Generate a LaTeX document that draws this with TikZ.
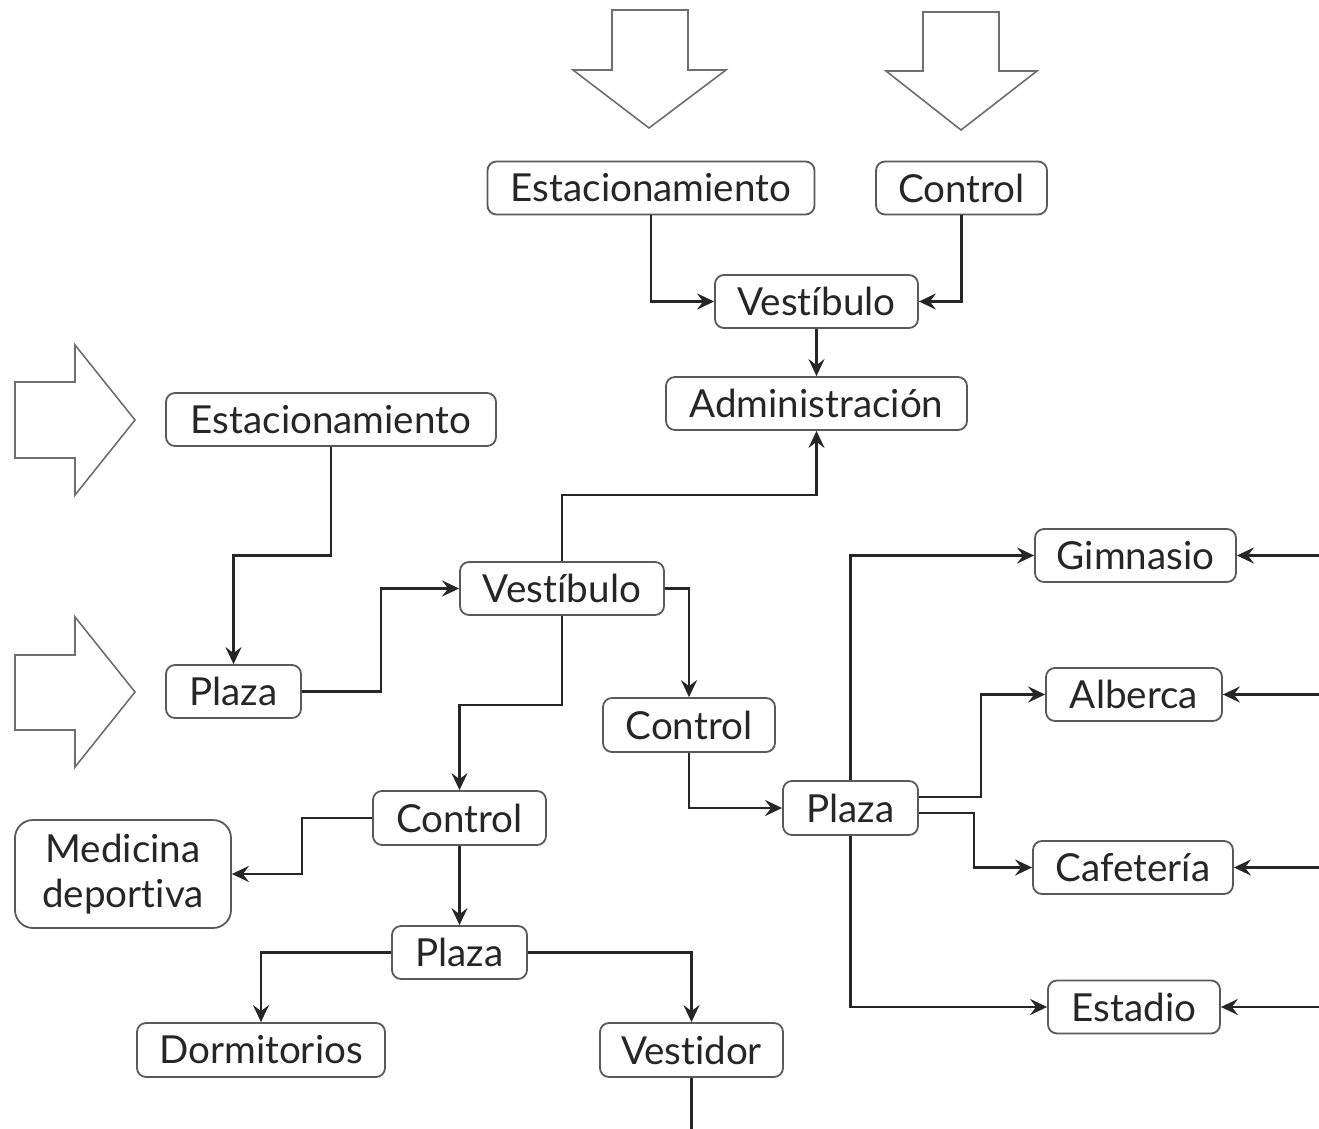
\documentclass[tikz,border=0pt]{standalone}
\usepackage{fontspec}
\setmainfont[Ligatures=NoCommon]{Lato}
\usetikzlibrary{arrows.meta,calc}
\definecolor{ink}{HTML}{262626}
\definecolor{frame}{HTML}{5A5A5A}
\definecolor{outline}{HTML}{6E6E6E}
\begin{document}
\begin{tikzpicture}[
  x=0.5pt, y=-0.5pt,
  font=\fontsize{19.3}{22.5}\selectfont,
  box/.style={draw=frame, line width=0.9pt, rounded corners=4.5pt, fill=white,
    text=ink, inner sep=0pt, minimum height=26.5pt, align=center},
  conn/.style={draw=ink, line width=1.15pt, -{Stealth[length=8.5pt, width=8pt, inset=3pt]}},
  link/.style={draw=ink, line width=1.15pt},
  bigarrow/.style={draw=outline, line width=0.8pt, fill=white, line join=miter}
]
\useasboundingbox[fill=white] (0,0) rectangle (1319,1129);

% open block arrows marking the entrances
\draw[bigarrow] (612,10) -- (688,10) -- (688,70) -- (726,70) -- (649,128) -- (573,70) -- (612,70) -- cycle;
\draw[bigarrow] (923,12) -- (999,12) -- (999,71) -- (1037,71) -- (961,130) -- (886,71) -- (923,71) -- cycle;
\draw[bigarrow] (15,382) -- (75,382) -- (75,345) -- (135,420) -- (75,495) -- (75,458) -- (15,458) -- cycle;
\draw[bigarrow] (15,655) -- (75,655) -- (75,617) -- (135,692) -- (75,767) -- (75,730) -- (15,730) -- cycle;

% rooms
\node[box, minimum width=163.5pt] (est1) at (651,188) {Estacionamiento};
\node[box, minimum width=85.5pt]  (ctl1) at (961.5,188) {Control};
\node[box, minimum width=101.5pt] (ves1) at (816.5,301.5) {Vestíbulo};
\node[box, minimum width=150.5pt] (adm)  at (816.5,403.5) {Administración};
\node[box, minimum width=165pt]   (est2) at (331,419.5) {Estacionamiento};
\node[box, minimum width=67.5pt]  (pla1) at (233.5,691.5) {Plaza};
\node[box, minimum width=102pt]   (ves2) at (562,588.5) {Vestíbulo};
\node[box, minimum width=86pt, minimum height=27pt] (ctl2) at (689,725) {Control};
\node[box, minimum width=86.5pt, minimum height=27pt] (ctl3) at (459.5,818) {Control};
\node[box, minimum width=108pt, minimum height=54pt, rounded corners=9pt] (med) at (123,874) {Medicina\\deportiva};
\node[box, minimum width=67.5pt]  (pla2) at (459.5,952.5) {Plaza};
\node[box, minimum width=124pt, minimum height=27pt] (dor) at (261,1050) {Dormitorios};
\node[box, minimum width=91.5pt, minimum height=27pt] (vst) at (691.5,1050) {Vestidor};
\node[box, minimum width=67.5pt, minimum height=27pt] (pla3) at (850.5,808) {Plaza};
\node[box, minimum width=100.5pt] (gim) at (1135.5,555.5) {Gimnasio};
\node[box, minimum width=88pt]    (alb) at (1134,694.5) {Alberca};
\node[box, minimum width=100pt]   (caf) at (1133,867.5) {Cafetería};
\node[box, minimum width=86pt]    (etd) at (1134,1007) {Estadio};

% loose ends at the right and bottom borders
\coordinate (edgeR) at (1319,0);
\coordinate (edgeB) at (0,1129);

% upper block
\draw[conn] (est1.south) |- (ves1.west);
\draw[conn] (ctl1.south) |- (ves1.east);
\draw[conn] (ves1.south) -- (adm.north);

% left entrance
\draw[conn] (est2.south) |- ($(est2.south)!0.5!(pla1.north)$) -| (pla1.north);
\draw[conn] (pla1.east) -- ++(79,0) |- (ves2.west);
\draw[conn] (ves2.north) -- ++(0,-66) -| (adm.south);
\draw[conn] (ves2.east) -| (ctl2.north);
\draw[conn] (ves2.south) -- ++(0,89) -| (ctl3.north);

% sports area
\draw[conn] (ctl2.south) |- (pla3.west);
\draw[conn] (pla3.north) |- (gim.west);
\draw[conn] (pla3.south) |- (etd.west);
\draw[conn] ($(pla3.east)+(0,-11)$) -- ++(62,0) |- (alb.west);
\draw[conn] ($(pla3.east)+(0,5)$) -- ++(55,0) |- (caf.west);
\draw[conn] (gim.east -| edgeR) -- (gim.east);
\draw[conn] (alb.east -| edgeR) -- (alb.east);
\draw[conn] (caf.east -| edgeR) -- (caf.east);
\draw[conn] (etd.east -| edgeR) -- (etd.east);

% lodging area
\draw[conn] (ctl3.west) -- ++(-70,0) |- (med.east);
\draw[conn] (ctl3.south) -- (pla2.north);
\draw[conn] (pla2.west) -| (dor.north);
\draw[conn] (pla2.east) -| (vst.north);
\draw[link] (vst.south) -- (vst.south |- edgeB);
\end{tikzpicture}
\end{document}
